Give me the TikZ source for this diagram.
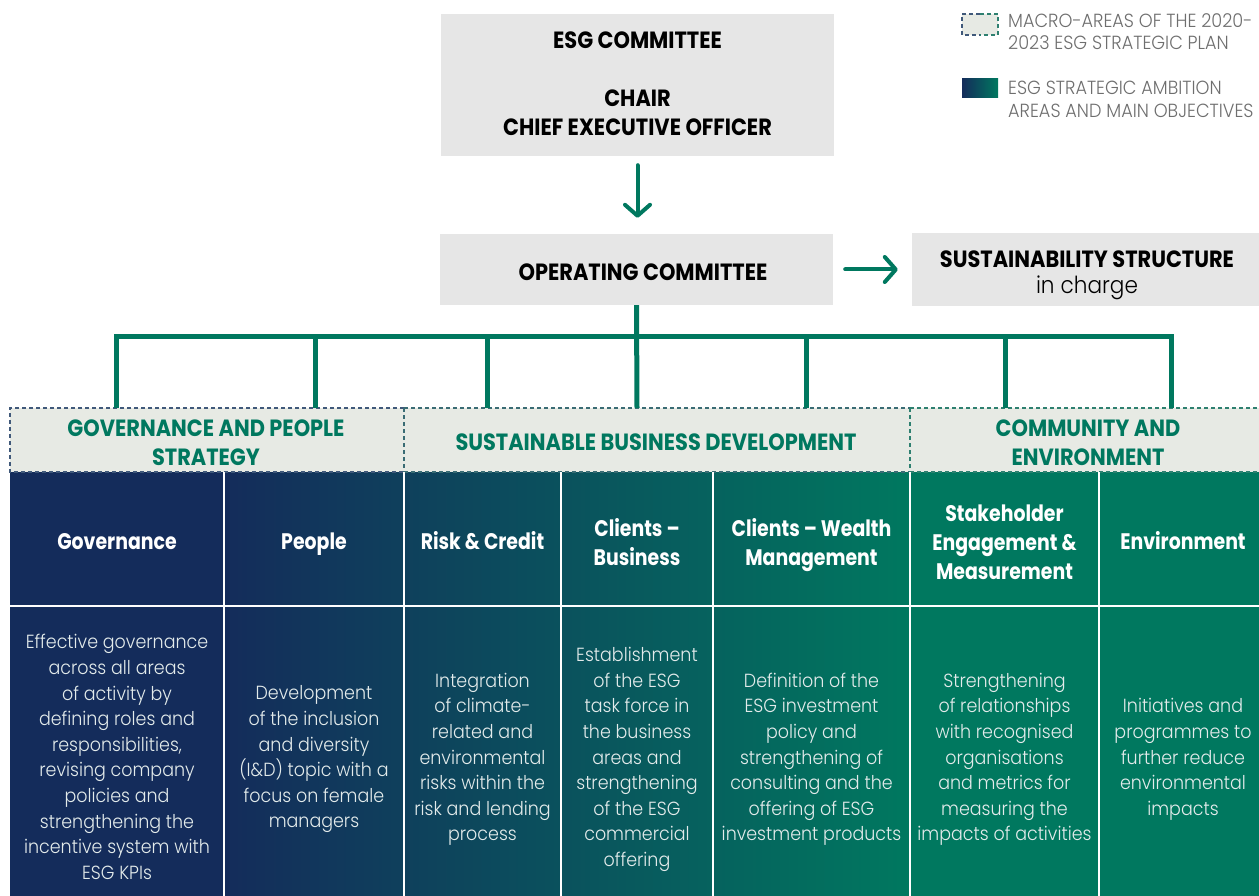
\documentclass[tikz,border=0pt]{standalone}
\usepackage{fontspec}
\usetikzlibrary{arrows.meta}
\IfFontExistsTF{Poppins Bold}
  {\newfontfamily\hfont{Poppins Bold}[FakeStretch=0.89]
   \newfontfamily\cfont{Poppins Bold}[FakeStretch=0.84]}
  {\newfontfamily\hfont{Poppins}[FakeStretch=0.89]
   \newfontfamily\cfont{Poppins}[FakeStretch=0.84]}
\IfFontExistsTF{Poppins Light}
  {\newfontfamily\lfont{Poppins Light}[FakeStretch=0.92]
   \newfontfamily\gfont{Poppins Light}[FakeStretch=0.93]}
  {\newfontfamily\lfont{Poppins}[FakeStretch=0.92]
   \newfontfamily\gfont{Poppins}[FakeStretch=0.93]}
\newcommand\vstrut{\vphantom{ÉQg}}
\definecolor{boxgray}{HTML}{E6E6E6}
\definecolor{bandc}{HTML}{E7EAE4}
\definecolor{gr}{HTML}{00785F}
\definecolor{navy}{HTML}{142C5B}
\definecolor{bodytxt}{HTML}{E3EBEB}
\definecolor{leg}{HTML}{6E6E6E}
\definecolor{dnavy}{HTML}{40597A}
\definecolor{dteal}{HTML}{3A6C74}
\definecolor{dgreen}{HTML}{2E8070}
\begin{document}
\begin{tikzpicture}[x=1pt,y=-1pt,
  txt/.style={inner sep=0pt,align=center,execute at begin node=\vstrut,execute at end node=\vstrut},
  graybox/.style={fill=boxgray,inner sep=0pt},
  boxtext/.style={txt,font=\hfont\fontsize{23.5}{29}\selectfont,text=black},
  band/.style={txt,font=\hfont\fontsize{23.5}{29}\selectfont,text=gr},
  colhead/.style={txt,font=\cfont\fontsize{22.5}{29}\selectfont,text=white},
  colbody/.style={txt,font=\lfont\fontsize{19}{25.6}\selectfont,text=bodytxt},
  legtext/.style={inner sep=0pt,align=left,anchor=west,execute at begin node=\vstrut,execute at end node=\vstrut,font=\gfont\fontsize{19}{22.5}\selectfont,text=leg},
  garrow/.style={draw=gr,line width=4pt,line cap=round,line join=round,-{Straight Barb[length=11pt,width=25pt,line cap=round,line join=round]}},
  tree/.style={draw=gr,line width=5pt,line join=miter},
  dsh/.style={line width=1.3pt,dash pattern=on 4pt off 3pt},
  grid/.style={draw=white,line width=1.5pt}
]
\useasboundingbox (0,0) rectangle (1259,896);

% top boxes
\node[graybox,minimum width=393pt,minimum height=142pt] (esg) at (637.5,85) {};
\node[boxtext] (esgt) at (637.5,86.5) {ESG COMMITTEE\\[29pt]CHAIR\\CHIEF EXECUTIVE OFFICER};
\node[graybox,minimum width=393pt,minimum height=71pt] (op) at (636.5,269.5) {};
\node[boxtext] (opt) at (643,272.5) {OPERATING COMMITTEE};
\node[graybox,minimum width=350pt,minimum height=73pt] (sus) at (1087,269.5) {};
\node[boxtext] (sust) at (1087,275) {SUSTAINABILITY STRUCTURE\\[-3pt]{\lfont in charge}};

\draw[garrow,shorten <=9pt,shorten >=16pt] (esg.south) -- (esg.south |- op.north);
\draw[garrow,shorten <=12pt,shorten >=14pt] (op.east) -- (sus.west);

% column backgrounds
\fill[navy] (10,472) rectangle (224,906);
\shade[left color=navy,right color=gr] (224,472) rectangle (910,906);
\fill[gr] (910,472) rectangle (1266,906);

% band
\fill[bandc] (10,408) rectangle (1266,472);
\node[band] (gp) at (206,445.5) {GOVERNANCE AND PEOPLE\\STRATEGY};
\node[band] (sbd) at (656,442.5) {SUSTAINABLE BUSINESS DEVELOPMENT};
\node[band] (ce) at (1088,445.5) {COMMUNITY AND\\ENVIRONMENT};
\draw[dsh,dnavy] (404,408) -- (10,408) -- (10,472) -- (404,472);
\draw[dsh,dteal] (404,408) -- (910,408) (404,472) -- (910,472);
\draw[dsh,dgreen] (910,408) -- (1266,408) (910,472) -- (1266,472);
\draw[dsh,dteal] (404,408) -- (404,472);
\draw[dsh,dgreen] (910,408) -- (910,472);

% grid
\foreach \x in {224,404,561,713,910,1099} \draw[grid] (\x,472) -- (\x,906);
\draw[grid] (10,606) -- (1266,606);

% column headers
\node[colhead] (h1) at (117,541.5) {Governance};
\node[colhead] (h2) at (314,541.5) {People};
\node[colhead] (h3) at (482.5,541.5) {Risk \& Credit};
\node[colhead] (h4) at (637,545) {Clients –\\Business};
\node[colhead] (h5) at (811.5,545) {Clients – Wealth\\Management};
\node[colhead] (h6) at (1004.5,545.5) {Stakeholder\\Engagement \&\\Measurement};
\node[colhead] (h7) at (1183,541.5) {Environment};

% column bodies
\node[colbody] (b1) at (117,759.5) {Effective governance\\across all areas\\of activity by\\defining roles and\\responsibilities,\\revising company\\policies and\\strengthening the\\incentive system with\\ESG KPIs};
\node[colbody] (b2) at (314,759.5) {Development\\of the inclusion\\and diversity\\(I\&D) topic with a\\focus on female\\managers};
\node[colbody] (b3) at (482.5,759.5) {Integration\\of climate-\\related and\\environmental\\risks within the\\risk and lending\\process};
\node[colbody] (b4) at (637,759.5) {Establishment\\of the ESG\\task force in\\the business\\areas and\\strengthening\\of the ESG\\commercial\\offering};
\node[colbody] (b5) at (811.5,759.5) {Definition of the\\ESG investment\\policy and\\strengthening of\\consulting and the\\offering of ESG\\investment products};
\node[colbody] (b6) at (1004.5,759.5) {Strengthening\\of relationships\\with recognised\\organisations\\and metrics for\\measuring the\\impacts of activities};
\node[colbody] (b7) at (1183,759.5) {Initiatives and\\programmes to\\further reduce\\environmental\\impacts};

% tree
\coordinate (bus) at (637,336.5);
\foreach \x/\n in {116/d1,315/d2,487/d3,637/d4,806/d5,1005/d6,1171/d7} \coordinate (\n) at (\x,408);
\draw[tree] (d1) -- (d1 |- bus) -- (d7 |- bus) -- (d7);
\draw[tree] (op.south) -- (d4);
\foreach \n in {d2,d3,d5,d6} \draw[tree] (\n |- bus) -- (\n);

% legend
\fill[bandc] (962,14) rectangle (998,35);
\draw[dsh,dnavy] (980,14) -- (962,14) -- (962,35) -- (980,35);
\draw[dsh,dgreen] (980,14) -- (998,14) -- (998,35) -- (980,35);
\shade[left color=navy,right color=gr] (962,79) rectangle (998,98);
\node[legtext] (l1) at (1008,34) {MACRO-AREAS OF THE 2020-\\2023 ESG STRATEGIC PLAN};
\node[legtext] (l2) at (1008,102) {ESG STRATEGIC AMBITION\\AREAS AND MAIN OBJECTIVES};
\end{tikzpicture}
\end{document}
